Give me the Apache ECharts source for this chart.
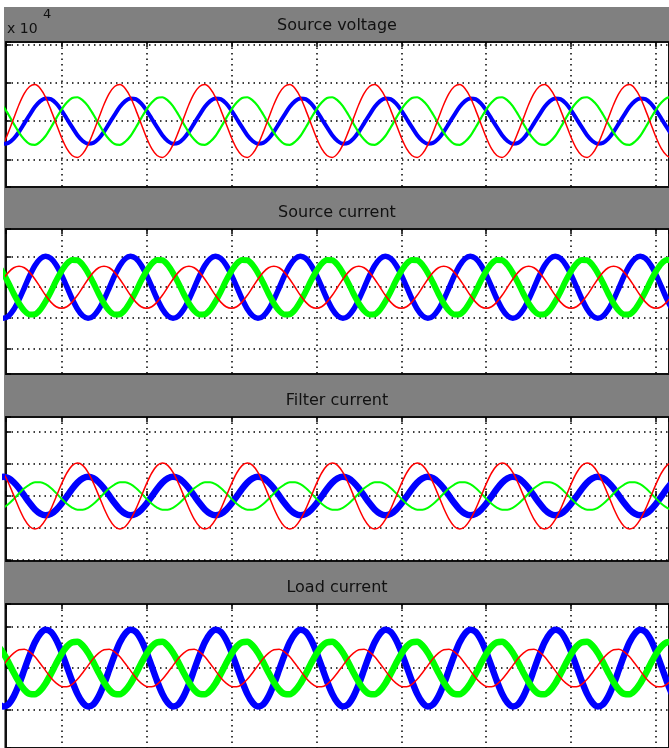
<!DOCTYPE html>
<html><head><meta charset="utf-8">
<script src="https://cdn.jsdelivr.net/npm/echarts@6/dist/echarts.min.js"></script>
<style>
html,body{margin:0;padding:0;background:#fff;}
#bg{position:absolute;left:4px;top:7px;width:665px;height:741px;background:#808080;}
#chart{position:absolute;left:0;top:0;width:669px;height:748px;}
</style></head><body>
<div id="bg"></div><div id="chart"></div>
<script>
// time axis (ms)
const time = [
5,6.25,7.5,8.75,10,11.25,12.5,13.75,
15,16.25,17.5,18.75,20,21.25,22.5,23.75,
25,26.25,27.5,28.75,30,31.25,32.5,33.75,
35,36.25,37.5,38.75,40,41.25,42.5,43.75,
45,46.25,47.5,48.75,50,51.25,52.5,53.75,
55,56.25,57.5,58.75,60,61.25,62.5,63.75,
65,66.25,67.5,68.75,70,71.25,72.5,73.75,
75,76.25,77.5,78.75,80,81.25,82.5,83.75,
85,86.25,87.5,88.75,90,91.25,92.5,93.75,
95,96.25,97.5,98.75,100,101.25,102.5,103.75,
105,106.25,107.5,108.75,110,111.25,112.5,113.75,
115,116.25,117.5,118.75,120,121.25,122.5,123.75,
125,126.25,127.5,128.75,130,131.25,132.5,133.75,
135,136.25,137.5,138.75,140,141.25,142.5,143.75,
145,146.25,147.5,148.75,150,151.25,152.5,153.75,
155,156.25,157.5,158.75,160,161.25,162.5,163.75,
165];

const panelTitles = ['Source voltage','Source current','Filter current','Load current'];
const scaleLabel = 'x 10';
const scaleExp = '4';

// Source voltage (x10^4)
const vsBlue = [
-0.52,-0.59,-0.57,-0.46,-0.28,-0.06,0.16,0.37,0.52,0.59,0.57,0.46,0.28,0.06,-0.16,-0.37,
-0.52,-0.59,-0.57,-0.46,-0.28,-0.06,0.16,0.37,0.52,0.59,0.57,0.46,0.28,0.06,-0.16,-0.37,
-0.52,-0.59,-0.57,-0.46,-0.28,-0.06,0.16,0.37,0.52,0.59,0.57,0.46,0.28,0.06,-0.16,-0.37,
-0.52,-0.59,-0.57,-0.46,-0.28,-0.06,0.16,0.37,0.52,0.59,0.57,0.46,0.28,0.06,-0.16,-0.37,
-0.52,-0.59,-0.57,-0.46,-0.28,-0.06,0.16,0.37,0.52,0.59,0.57,0.46,0.28,0.06,-0.16,-0.37,
-0.52,-0.59,-0.57,-0.46,-0.28,-0.06,0.16,0.37,0.52,0.59,0.57,0.46,0.28,0.06,-0.16,-0.37,
-0.52,-0.59,-0.57,-0.46,-0.28,-0.06,0.16,0.37,0.52,0.59,0.57,0.46,0.28,0.06,-0.16,-0.37,
-0.52,-0.59,-0.57,-0.46,-0.28,-0.06,0.16,0.37,0.52,0.59,0.57,0.46,0.28,0.06,-0.16,-0.37,
-0.52];
const vsGreen = [
0.54,0.39,0.17,-0.07,-0.30,-0.48,-0.60,-0.62,-0.54,-0.39,-0.17,0.07,0.30,0.48,0.60,0.62,
0.54,0.39,0.17,-0.07,-0.30,-0.48,-0.60,-0.62,-0.54,-0.39,-0.17,0.07,0.30,0.48,0.60,0.62,
0.54,0.39,0.17,-0.07,-0.30,-0.48,-0.60,-0.62,-0.54,-0.39,-0.17,0.07,0.30,0.48,0.60,0.62,
0.54,0.39,0.17,-0.07,-0.30,-0.48,-0.60,-0.62,-0.54,-0.39,-0.17,0.07,0.30,0.48,0.60,0.62,
0.54,0.39,0.17,-0.07,-0.30,-0.48,-0.60,-0.62,-0.54,-0.39,-0.17,0.07,0.30,0.48,0.60,0.62,
0.54,0.39,0.17,-0.07,-0.30,-0.48,-0.60,-0.62,-0.54,-0.39,-0.17,0.07,0.30,0.48,0.60,0.62,
0.54,0.39,0.17,-0.07,-0.30,-0.48,-0.60,-0.62,-0.54,-0.39,-0.17,0.07,0.30,0.48,0.60,0.62,
0.54,0.39,0.17,-0.07,-0.30,-0.48,-0.60,-0.62,-0.54,-0.39,-0.17,0.07,0.30,0.48,0.60,0.62,
0.54];
const vsRed = [
-0.85,-0.62,-0.29,0.07,0.43,0.72,0.90,0.95,0.85,0.62,0.29,-0.07,-0.43,-0.72,-0.90,-0.95,
-0.85,-0.62,-0.29,0.07,0.43,0.72,0.90,0.95,0.85,0.62,0.29,-0.07,-0.43,-0.72,-0.90,-0.95,
-0.85,-0.62,-0.29,0.07,0.43,0.72,0.90,0.95,0.85,0.62,0.29,-0.07,-0.43,-0.72,-0.90,-0.95,
-0.85,-0.62,-0.29,0.07,0.43,0.72,0.90,0.95,0.85,0.62,0.29,-0.07,-0.43,-0.72,-0.90,-0.95,
-0.85,-0.62,-0.29,0.07,0.43,0.72,0.90,0.95,0.85,0.62,0.29,-0.07,-0.43,-0.72,-0.90,-0.95,
-0.85,-0.62,-0.29,0.07,0.43,0.72,0.90,0.95,0.85,0.62,0.29,-0.07,-0.43,-0.72,-0.90,-0.95,
-0.85,-0.62,-0.29,0.07,0.43,0.72,0.90,0.95,0.85,0.62,0.29,-0.07,-0.43,-0.72,-0.90,-0.95,
-0.85,-0.62,-0.29,0.07,0.43,0.72,0.90,0.95,0.85,0.62,0.29,-0.07,-0.43,-0.72,-0.90,-0.95,
-0.85];

// Source current
const isBlue = [
-0.92,-1.00,-0.93,-0.72,-0.40,-0.02,0.37,0.70,0.92,1.00,0.93,0.72,0.40,0.02,-0.37,-0.70,
-0.92,-1.00,-0.93,-0.72,-0.40,-0.02,0.37,0.70,0.92,1.00,0.93,0.72,0.40,0.02,-0.37,-0.70,
-0.92,-1.00,-0.93,-0.72,-0.40,-0.02,0.37,0.70,0.92,1.00,0.93,0.72,0.40,0.02,-0.37,-0.70,
-0.92,-1.00,-0.93,-0.72,-0.40,-0.02,0.37,0.70,0.92,1.00,0.93,0.72,0.40,0.02,-0.37,-0.70,
-0.92,-1.00,-0.93,-0.72,-0.40,-0.02,0.37,0.70,0.92,1.00,0.93,0.72,0.40,0.02,-0.37,-0.70,
-0.92,-1.00,-0.93,-0.72,-0.40,-0.02,0.37,0.70,0.92,1.00,0.93,0.72,0.40,0.02,-0.37,-0.70,
-0.92,-1.00,-0.93,-0.72,-0.40,-0.02,0.37,0.70,0.92,1.00,0.93,0.72,0.40,0.02,-0.37,-0.70,
-0.92,-1.00,-0.93,-0.72,-0.40,-0.02,0.37,0.70,0.92,1.00,0.93,0.72,0.40,0.02,-0.37,-0.70,
-0.92];
const isGreen = [
0.72,0.46,0.14,-0.21,-0.52,-0.76,-0.88,-0.87,-0.72,-0.46,-0.14,0.21,0.52,0.76,0.88,0.87,
0.72,0.46,0.14,-0.21,-0.52,-0.76,-0.88,-0.87,-0.72,-0.46,-0.14,0.21,0.52,0.76,0.88,0.87,
0.72,0.46,0.14,-0.21,-0.52,-0.76,-0.88,-0.87,-0.72,-0.46,-0.14,0.21,0.52,0.76,0.88,0.87,
0.72,0.46,0.14,-0.21,-0.52,-0.76,-0.88,-0.87,-0.72,-0.46,-0.14,0.21,0.52,0.76,0.88,0.87,
0.72,0.46,0.14,-0.21,-0.52,-0.76,-0.88,-0.87,-0.72,-0.46,-0.14,0.21,0.52,0.76,0.88,0.87,
0.72,0.46,0.14,-0.21,-0.52,-0.76,-0.88,-0.87,-0.72,-0.46,-0.14,0.21,0.52,0.76,0.88,0.87,
0.72,0.46,0.14,-0.21,-0.52,-0.76,-0.88,-0.87,-0.72,-0.46,-0.14,0.21,0.52,0.76,0.88,0.87,
0.72,0.46,0.14,-0.21,-0.52,-0.76,-0.88,-0.87,-0.72,-0.46,-0.14,0.21,0.52,0.76,0.88,0.87,
0.72];
const isRed = [
0,0.26,0.48,0.63,0.68,0.63,0.48,0.26,0,-0.26,-0.48,-0.63,-0.68,-0.63,-0.48,-0.26,
0,0.26,0.48,0.63,0.68,0.63,0.48,0.26,0,-0.26,-0.48,-0.63,-0.68,-0.63,-0.48,-0.26,
0,0.26,0.48,0.63,0.68,0.63,0.48,0.26,0,-0.26,-0.48,-0.63,-0.68,-0.63,-0.48,-0.26,
0,0.26,0.48,0.63,0.68,0.63,0.48,0.26,0,-0.26,-0.48,-0.63,-0.68,-0.63,-0.48,-0.26,
0,0.26,0.48,0.63,0.68,0.63,0.48,0.26,0,-0.26,-0.48,-0.63,-0.68,-0.63,-0.48,-0.26,
0,0.26,0.48,0.63,0.68,0.63,0.48,0.26,0,-0.26,-0.48,-0.63,-0.68,-0.63,-0.48,-0.26,
0,0.26,0.48,0.63,0.68,0.63,0.48,0.26,0,-0.26,-0.48,-0.63,-0.68,-0.63,-0.48,-0.26,
0,0.26,0.48,0.63,0.68,0.63,0.48,0.26,0,-0.26,-0.48,-0.63,-0.68,-0.63,-0.48,-0.26,
0];

// Filter current
const ifBlue = [
0.55,0.60,0.56,0.43,0.24,0.01,-0.22,-0.42,-0.55,-0.60,-0.56,-0.43,-0.24,-0.01,0.22,0.42,
0.55,0.60,0.56,0.43,0.24,0.01,-0.22,-0.42,-0.55,-0.60,-0.56,-0.43,-0.24,-0.01,0.22,0.42,
0.55,0.60,0.56,0.43,0.24,0.01,-0.22,-0.42,-0.55,-0.60,-0.56,-0.43,-0.24,-0.01,0.22,0.42,
0.55,0.60,0.56,0.43,0.24,0.01,-0.22,-0.42,-0.55,-0.60,-0.56,-0.43,-0.24,-0.01,0.22,0.42,
0.55,0.60,0.56,0.43,0.24,0.01,-0.22,-0.42,-0.55,-0.60,-0.56,-0.43,-0.24,-0.01,0.22,0.42,
0.55,0.60,0.56,0.43,0.24,0.01,-0.22,-0.42,-0.55,-0.60,-0.56,-0.43,-0.24,-0.01,0.22,0.42,
0.55,0.60,0.56,0.43,0.24,0.01,-0.22,-0.42,-0.55,-0.60,-0.56,-0.43,-0.24,-0.01,0.22,0.42,
0.55,0.60,0.56,0.43,0.24,0.01,-0.22,-0.42,-0.55,-0.60,-0.56,-0.43,-0.24,-0.01,0.22,0.42,
0.55];
const ifGreen = [
-0.43,-0.37,-0.25,-0.09,0.08,0.24,0.36,0.43,0.43,0.37,0.25,0.09,-0.08,-0.24,-0.36,-0.43,
-0.43,-0.37,-0.25,-0.09,0.08,0.24,0.36,0.43,0.43,0.37,0.25,0.09,-0.08,-0.24,-0.36,-0.43,
-0.43,-0.37,-0.25,-0.09,0.08,0.24,0.36,0.43,0.43,0.37,0.25,0.09,-0.08,-0.24,-0.36,-0.43,
-0.43,-0.37,-0.25,-0.09,0.08,0.24,0.36,0.43,0.43,0.37,0.25,0.09,-0.08,-0.24,-0.36,-0.43,
-0.43,-0.37,-0.25,-0.09,0.08,0.24,0.36,0.43,0.43,0.37,0.25,0.09,-0.08,-0.24,-0.36,-0.43,
-0.43,-0.37,-0.25,-0.09,0.08,0.24,0.36,0.43,0.43,0.37,0.25,0.09,-0.08,-0.24,-0.36,-0.43,
-0.43,-0.37,-0.25,-0.09,0.08,0.24,0.36,0.43,0.43,0.37,0.25,0.09,-0.08,-0.24,-0.36,-0.43,
-0.43,-0.37,-0.25,-0.09,0.08,0.24,0.36,0.43,0.43,0.37,0.25,0.09,-0.08,-0.24,-0.36,-0.43,
-0.43];
const ifRed = [
0.96,0.74,0.41,0.02,-0.38,-0.72,-0.95,-1.03,-0.96,-0.74,-0.41,-0.02,0.38,0.72,0.95,1.03,
0.96,0.74,0.41,0.02,-0.38,-0.72,-0.95,-1.03,-0.96,-0.74,-0.41,-0.02,0.38,0.72,0.95,1.03,
0.96,0.74,0.41,0.02,-0.38,-0.72,-0.95,-1.03,-0.96,-0.74,-0.41,-0.02,0.38,0.72,0.95,1.03,
0.96,0.74,0.41,0.02,-0.38,-0.72,-0.95,-1.03,-0.96,-0.74,-0.41,-0.02,0.38,0.72,0.95,1.03,
0.96,0.74,0.41,0.02,-0.38,-0.72,-0.95,-1.03,-0.96,-0.74,-0.41,-0.02,0.38,0.72,0.95,1.03,
0.96,0.74,0.41,0.02,-0.38,-0.72,-0.95,-1.03,-0.96,-0.74,-0.41,-0.02,0.38,0.72,0.95,1.03,
0.96,0.74,0.41,0.02,-0.38,-0.72,-0.95,-1.03,-0.96,-0.74,-0.41,-0.02,0.38,0.72,0.95,1.03,
0.96,0.74,0.41,0.02,-0.38,-0.72,-0.95,-1.03,-0.96,-0.74,-0.41,-0.02,0.38,0.72,0.95,1.03,
0.96];

// Load current
const ilBlue = [
-0.83,-0.92,-0.87,-0.68,-0.39,-0.04,0.31,0.62,0.83,0.92,0.87,0.68,0.39,0.04,-0.31,-0.62,
-0.83,-0.92,-0.87,-0.68,-0.39,-0.04,0.31,0.62,0.83,0.92,0.87,0.68,0.39,0.04,-0.31,-0.62,
-0.83,-0.92,-0.87,-0.68,-0.39,-0.04,0.31,0.62,0.83,0.92,0.87,0.68,0.39,0.04,-0.31,-0.62,
-0.83,-0.92,-0.87,-0.68,-0.39,-0.04,0.31,0.62,0.83,0.92,0.87,0.68,0.39,0.04,-0.31,-0.62,
-0.83,-0.92,-0.87,-0.68,-0.39,-0.04,0.31,0.62,0.83,0.92,0.87,0.68,0.39,0.04,-0.31,-0.62,
-0.83,-0.92,-0.87,-0.68,-0.39,-0.04,0.31,0.62,0.83,0.92,0.87,0.68,0.39,0.04,-0.31,-0.62,
-0.83,-0.92,-0.87,-0.68,-0.39,-0.04,0.31,0.62,0.83,0.92,0.87,0.68,0.39,0.04,-0.31,-0.62,
-0.83,-0.92,-0.87,-0.68,-0.39,-0.04,0.31,0.62,0.83,0.92,0.87,0.68,0.39,0.04,-0.31,-0.62,
-0.83];
const ilGreen = [
0.54,0.37,0.14,-0.11,-0.34,-0.52,-0.62,-0.63,-0.54,-0.37,-0.14,0.11,0.34,0.52,0.62,0.63,
0.54,0.37,0.14,-0.11,-0.34,-0.52,-0.62,-0.63,-0.54,-0.37,-0.14,0.11,0.34,0.52,0.62,0.63,
0.54,0.37,0.14,-0.11,-0.34,-0.52,-0.62,-0.63,-0.54,-0.37,-0.14,0.11,0.34,0.52,0.62,0.63,
0.54,0.37,0.14,-0.11,-0.34,-0.52,-0.62,-0.63,-0.54,-0.37,-0.14,0.11,0.34,0.52,0.62,0.63,
0.54,0.37,0.14,-0.11,-0.34,-0.52,-0.62,-0.63,-0.54,-0.37,-0.14,0.11,0.34,0.52,0.62,0.63,
0.54,0.37,0.14,-0.11,-0.34,-0.52,-0.62,-0.63,-0.54,-0.37,-0.14,0.11,0.34,0.52,0.62,0.63,
0.54,0.37,0.14,-0.11,-0.34,-0.52,-0.62,-0.63,-0.54,-0.37,-0.14,0.11,0.34,0.52,0.62,0.63,
0.54,0.37,0.14,-0.11,-0.34,-0.52,-0.62,-0.63,-0.54,-0.37,-0.14,0.11,0.34,0.52,0.62,0.63,
0.54];
const ilRed = [
-0.11,0.06,0.23,0.36,0.44,0.45,0.39,0.27,0.11,-0.06,-0.23,-0.36,-0.44,-0.45,-0.39,-0.27,
-0.11,0.06,0.23,0.36,0.44,0.45,0.39,0.27,0.11,-0.06,-0.23,-0.36,-0.44,-0.45,-0.39,-0.27,
-0.11,0.06,0.23,0.36,0.44,0.45,0.39,0.27,0.11,-0.06,-0.23,-0.36,-0.44,-0.45,-0.39,-0.27,
-0.11,0.06,0.23,0.36,0.44,0.45,0.39,0.27,0.11,-0.06,-0.23,-0.36,-0.44,-0.45,-0.39,-0.27,
-0.11,0.06,0.23,0.36,0.44,0.45,0.39,0.27,0.11,-0.06,-0.23,-0.36,-0.44,-0.45,-0.39,-0.27,
-0.11,0.06,0.23,0.36,0.44,0.45,0.39,0.27,0.11,-0.06,-0.23,-0.36,-0.44,-0.45,-0.39,-0.27,
-0.11,0.06,0.23,0.36,0.44,0.45,0.39,0.27,0.11,-0.06,-0.23,-0.36,-0.44,-0.45,-0.39,-0.27,
-0.11,0.06,0.23,0.36,0.44,0.45,0.39,0.27,0.11,-0.06,-0.23,-0.36,-0.44,-0.45,-0.39,-0.27,
-0.11];

const panelSeries = [
  [vsBlue, vsGreen, vsRed],
  [isBlue, isGreen, isRed],
  [ifBlue, ifGreen, ifRed],
  [ilBlue, ilGreen, ilRed]
];
const colors = ['#0000ff', '#00ff00', '#ff0000'];
const widths = [[4, 2.2, 1.5], [5.5, 6, 1.5], [6.5, 2, 1.5], [6.5, 6.5, 1.5]];

const layout = [
  {top: 42, bottom: 561, min: -1.72, max: 2.06, split: 4},
  {top: 229, bottom: 374, min: -2.80, max: 1.88, split: 5},
  {top: 417, bottom: 187, min: -2.03, max: 2.47, split: 4},
  {top: 604, bottom: -1, min: -1.92, max: 1.54, split: 4}
];
const xMin = 6.93, xMax = 163.04;

const dotted = {color: '#000', width: 1.5, type: [1.5, 4]};
const tickStyle = {color: '#000', width: 1.5};
const grids = [], xAxes = [], yAxes = [], series = [], graphics = [];
layout.forEach((L, i) => {
  grids.push({left: 6, right: -6, top: L.top, bottom: L.bottom, show: true,
    backgroundColor: '#fff', borderColor: '#111', borderWidth: 2, containLabel: false});
  xAxes.push({type: 'value', gridIndex: i, min: xMin, max: xMax, splitNumber: 8, position: 'bottom',
    axisLine: {show: false}, axisLabel: {show: false},
    axisTick: {show: true, inside: true, length: 5, lineStyle: tickStyle},
    splitLine: {show: true, showMinLine: false, showMaxLine: false, lineStyle: dotted}});
  xAxes.push({type: 'value', gridIndex: i, min: xMin, max: xMax, splitNumber: 8, position: 'top',
    axisLine: {show: false}, axisLabel: {show: false},
    axisTick: {show: true, inside: true, length: 5, lineStyle: tickStyle},
    splitLine: {show: false}});
  yAxes.push({type: 'value', gridIndex: i, min: L.min, max: L.max, splitNumber: L.split, position: 'left',
    axisLine: {show: false}, axisLabel: {show: false},
    axisTick: {show: true, inside: true, length: 5, lineStyle: tickStyle},
    splitLine: {show: true, showMinLine: false, showMaxLine: false, lineStyle: dotted}});
  panelSeries[i].forEach((vals, j) => {
    series.push({type: 'line', xAxisIndex: 2 * i, yAxisIndex: i,
      data: time.map((t, k) => [t, vals[k]]),
      showSymbol: false, smooth: 0.3, clip: true, silent: true,
      lineStyle: {color: colors[j], width: widths[i][j]}, z: 2 + j});
  });
  graphics.push({type: 'text', x: 337, y: L.top - 16,
    style: {text: panelTitles[i], font: '16px "DejaVu Sans"', fill: '#111', align: 'center', verticalAlign: 'middle'}});
});
graphics.push({type: 'text', x: 7, y: 29, style: {text: scaleLabel, font: '14px "DejaVu Sans"', fill: '#111', align: 'left', verticalAlign: 'middle'}});
graphics.push({type: 'text', x: 43, y: 15, style: {text: scaleExp, font: '13px "DejaVu Sans"', fill: '#111', align: 'left', verticalAlign: 'middle'}});

const chart = echarts.init(document.getElementById('chart'), null, {renderer: 'canvas'});
chart.setOption({
  animation: false,
  backgroundColor: 'transparent',
  grid: grids, xAxis: xAxes, yAxis: yAxes, series: series,
  graphic: {elements: graphics}
});
</script>
</body></html>
